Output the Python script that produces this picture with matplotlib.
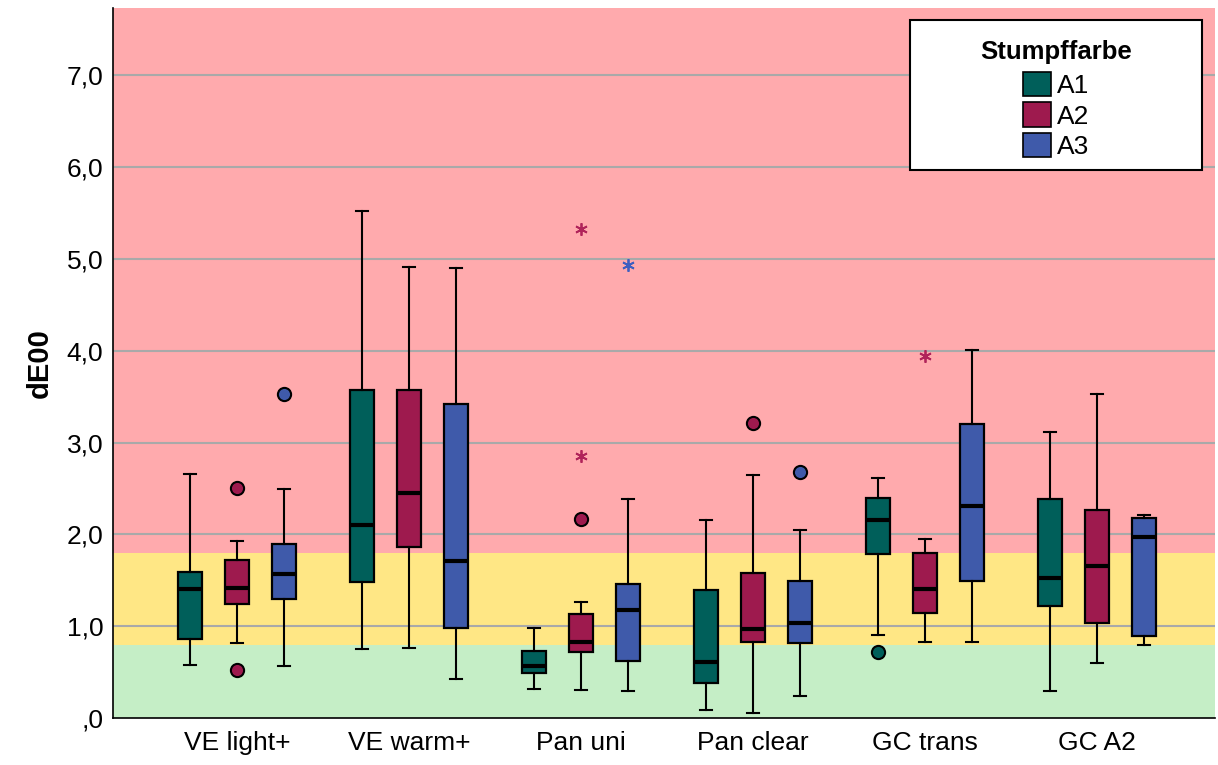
import matplotlib
matplotlib.use("Agg")
import matplotlib.pyplot as plt
from matplotlib.patches import Patch, Rectangle
import numpy as np

plt.rcParams['font.family'] = ['Liberation Sans', 'DejaVu Sans']

categories = ["VE light+", "VE warm+", "Pan uni", "Pan clear", "GC trans", "GC A2"]
series = ["A1", "A2", "A3"]
colors = {"A1": "#005F5A", "A2": "#9E1A4E", "A3": "#3F5AAA"}
star_colors = {"A1": "#005F5A", "A2": "#B0245A", "A3": "#3F5FC0"}

# per series, per category: whisker low, q1, median, q3, whisker high
whislo = {
    "A1": [0.58, 0.75, 0.32, 0.09, 0.90, 0.29],
    "A2": [0.82, 0.76, 0.30, 0.06, 0.83, 0.60],
    "A3": [0.57, 0.42, 0.29, 0.24, 0.83, 0.80],
}
q1 = {
    "A1": [0.86, 1.48, 0.49, 0.38, 1.79, 1.22],
    "A2": [1.24, 1.86, 0.72, 0.83, 1.14, 1.04],
    "A3": [1.30, 0.98, 0.62, 0.82, 1.49, 0.89],
}
med = {
    "A1": [1.41, 2.10, 0.57, 0.61, 2.16, 1.52],
    "A2": [1.42, 2.45, 0.83, 0.97, 1.41, 1.65],
    "A3": [1.57, 1.71, 1.18, 1.04, 2.31, 1.97],
}
q3 = {
    "A1": [1.59, 3.57, 0.73, 1.39, 2.40, 2.38],
    "A2": [1.72, 3.57, 1.13, 1.58, 1.80, 2.27],
    "A3": [1.90, 3.42, 1.46, 1.49, 3.20, 2.18],
}
whishi = {
    "A1": [2.66, 5.52, 0.98, 2.16, 2.61, 3.11],
    "A2": [1.93, 4.91, 1.26, 2.65, 1.95, 3.53],
    "A3": [2.49, 4.90, 2.39, 2.05, 4.01, 2.21],
}
# outliers: (series, category index, value)
circle_outliers = [
    ("A2", 0, 2.50), ("A2", 0, 0.52), ("A3", 0, 3.53),
    ("A2", 2, 2.17),
    ("A2", 3, 3.21), ("A3", 3, 2.68),
    ("A1", 4, 0.72),
]
star_outliers = [
    ("A2", 2, 2.85), ("A2", 2, 5.32), ("A3", 2, 4.93),
    ("A2", 4, 3.94),
]

yticks = [0, 1, 2, 3, 4, 5, 6, 7]
ytick_labels = [",0", "1,0", "2,0", "3,0", "4,0", "5,0", "6,0", "7,0"]
bands = [(0.0, 0.8, "#C5EEC6"), (0.8, 1.8, "#FFE785"), (1.8, 7.73, "#FFAAAD")]

fig = plt.figure(figsize=(12.18, 7.65), dpi=100)
ax = fig.add_axes([0.0928, 0.0614, 0.905, 0.928])
ymax = 7.73
ax.set_ylim(0, ymax)
ax.set_xlim(-0.72, len(categories) - 1 + 0.69)

for lo, hi, c in bands:
    ax.axhspan(lo, hi, color=c, zorder=0, lw=0)
for t in yticks[1:]:
    ax.axhline(t, color="#A9A9A9", lw=1.5, zorder=1)

offset = 0.273
width = 0.14
offs = {"A1": -offset, "A2": 0.0, "A3": offset}
for s in series:
    stats = []
    for i in range(len(categories)):
        stats.append(dict(whislo=whislo[s][i], q1=q1[s][i], med=med[s][i],
                          q3=q3[s][i], whishi=whishi[s][i], fliers=[]))
    pos = np.arange(len(categories)) + offs[s]
    ax.bxp(stats, positions=pos, widths=width, patch_artist=True, showfliers=False,
           boxprops=dict(facecolor=colors[s], edgecolor="black", linewidth=1.6),
           medianprops=dict(color="black", linewidth=3),
           whiskerprops=dict(color="black", linewidth=1.5),
           capprops=dict(color="black", linewidth=1.5),
           capwidths=width * 0.5, manage_ticks=False, zorder=3)

for s, i, v in circle_outliers:
    ax.plot(i + offs[s], v, marker="o", ms=9.5, mfc=colors[s], mec="black", mew=1.5,
            ls="none", zorder=4)
for s, i, v in star_outliers:
    ax.plot(i + offs[s], v, marker=(6, 2, 0), ms=9, mec=star_colors[s], mew=1.3,
            ls="none", zorder=4)

ax.set_xticks(np.arange(len(categories)))
ax.set_xticklabels(categories, fontsize=19)
ax.set_yticks(yticks)
ax.set_yticklabels(ytick_labels, fontsize=19)
ax.tick_params(axis="y", length=0, pad=7)
ax.tick_params(axis="x", length=0, pad=9)
ax.set_ylabel("dE00", fontsize=21, fontweight="bold", labelpad=9)
for sp in ["top", "right"]:
    ax.spines[sp].set_visible(False)
ax.spines["left"].set_linewidth(1.2)
ax.spines["bottom"].set_linewidth(1.2)

# legend frame
x0 = (910 - 113) / 1102
x1 = (1202 - 113) / 1102
y1 = (718 - 20) / 710
y0 = (718 - 170) / 710
ax.add_patch(Rectangle((x0, y0), x1 - x0, y1 - y0, transform=ax.transAxes,
                       facecolor="white", edgecolor="black", lw=1.5, zorder=5))
handles = [Patch(facecolor=colors[s], edgecolor="black", lw=1.2, label=s) for s in series]
leg = ax.legend(handles=handles, title="Stumpffarbe", frameon=False,
                loc="center", bbox_to_anchor=((x0 + x1) / 2, (y0 + y1) / 2 - 0.006),
                fontsize=19, title_fontproperties=dict(weight="bold", size=18.5),
                handlelength=1.05, handleheight=1.05, handletextpad=0.25,
                labelspacing=0.16)
leg._legend_box.sep = 6
leg.set_zorder(6)

fig.savefig("out.png", dpi=100)
